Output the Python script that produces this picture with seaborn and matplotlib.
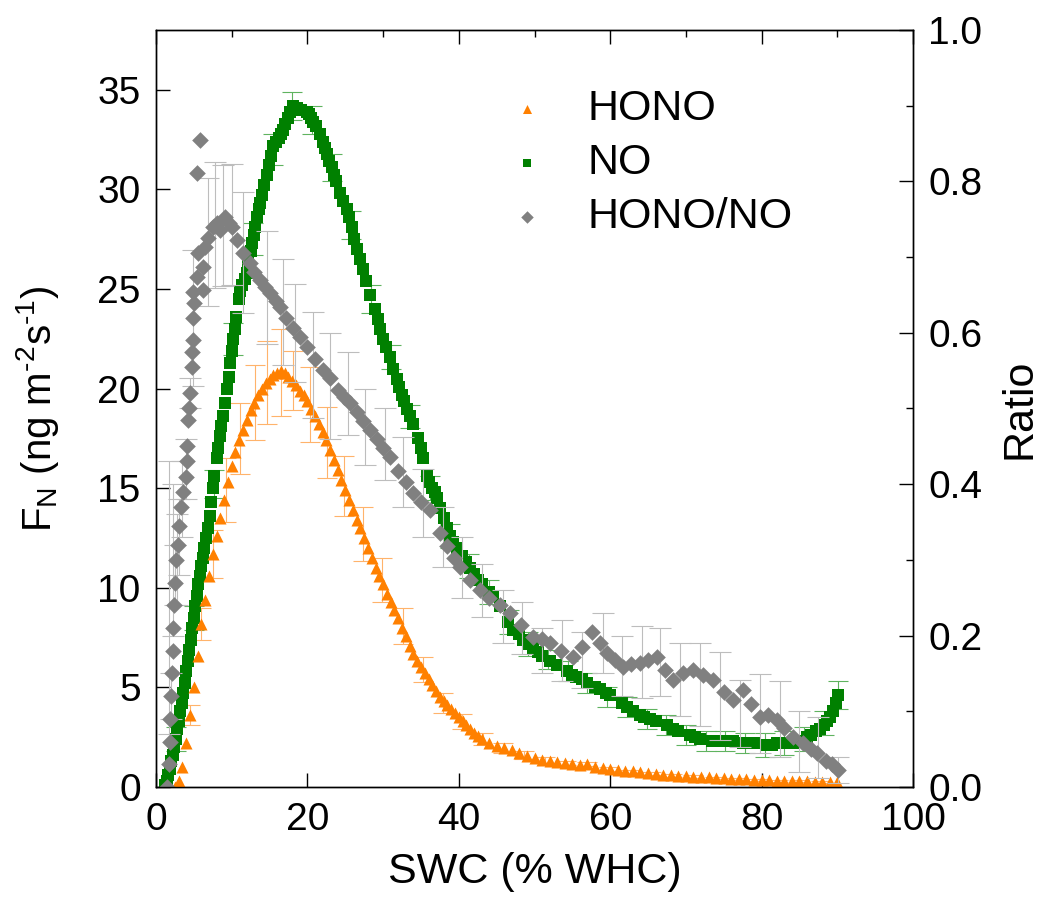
import matplotlib
matplotlib.use("Agg")
import matplotlib.pyplot as plt
from matplotlib.ticker import FixedLocator, FormatStrFormatter
import seaborn as sns

# ---------------- data ----------------
hono_x = [2.5, 3.0, 3.5, 4.0, 4.5, 5.0, 5.5, 6.0, 6.5, 7.0, 7.5, 8.0, 8.5, 9.0, 9.5,
          10.0, 10.5, 11.0, 11.5, 12.0, 12.5, 13.0, 13.5, 14.0, 14.5, 15.0, 15.5,
          16.0, 16.5, 17.0, 17.5, 18.0, 18.5, 19.0, 19.5, 20.0, 20.5, 21.0, 21.5,
          22.0, 22.5, 23.0, 23.5, 24.0, 24.5, 25.0, 25.5, 26.0, 26.5, 27.0, 27.5,
          28.0, 28.5, 29.0, 29.5, 30.0, 30.5, 31.0, 31.5, 32.0, 32.5, 33.0, 33.5,
          34.0, 34.5, 35.0, 35.5, 36.0, 36.5, 37.0, 37.5, 38.0, 38.5, 39.0, 39.5,
          40.0, 40.5, 41.0, 41.5, 42.0, 42.5, 43.0, 44.0, 45.0, 46.0, 47.0, 48.0,
          49.0, 50.0, 51, 52, 53, 54, 55, 56, 57, 58, 59, 60, 61, 62, 63, 64, 65,
          66, 67, 68, 69, 70, 71, 72, 73, 74, 75, 76, 77, 78, 79, 80, 81, 82, 83,
          84, 85, 86, 87, 88, 89, 90]
hono_y = [0.0, 0.3, 1.0, 2.2, 3.6, 5.0, 6.6, 8.2, 9.4, 10.6, 11.7, 12.6, 13.5, 14.4, 15.3,
          16.1, 16.8, 17.4, 17.9, 18.4, 18.9, 19.3, 19.7, 20.0, 20.3, 20.5, 20.7,
          20.8, 20.9, 20.8, 20.6, 20.4, 20.2, 19.9, 19.7, 19.4, 19.0, 18.6, 18.2,
          17.8, 17.4, 16.9, 16.4, 15.9, 15.4, 14.9, 14.4, 13.9, 13.4, 13.0, 12.5,
          12.0, 11.5, 11.0, 10.6, 10.2, 9.7, 9.3, 8.9, 8.5, 8.0, 7.6, 7.1,
          6.7, 6.3, 6.0, 5.7, 5.4, 5.1, 4.8, 4.5, 4.3, 4.1, 3.9, 3.7,
          3.5, 3.3, 3.1, 2.9, 2.7, 2.55, 2.4, 2.2, 2.05, 1.95, 1.85, 1.7,
          1.55, 1.45, 1.38, 1.3, 1.25, 1.2, 1.15, 1.1, 1.15, 1.0, 0.95, 0.9, 0.85,
          0.8, 0.78, 0.75, 0.7, 0.65, 0.62, 0.6, 0.57, 0.55, 0.52, 0.5, 0.48, 0.45,
          0.43, 0.4, 0.39, 0.38, 0.36, 0.35, 0.34, 0.32, 0.31, 0.3, 0.29, 0.28,
          0.27, 0.26, 0.25, 0.25]

no_x = [1.2, 1.4, 1.6, 1.8, 2.0, 2.2, 2.4, 2.6, 2.8, 3.0, 3.2, 3.4, 3.6, 3.8, 4.0,
        4.2, 4.4, 4.6, 4.8, 5.0, 5.2, 5.4, 5.6, 5.8, 6.0, 6.2, 6.4, 6.6, 6.9, 7.1,
        7.3, 7.5, 7.7, 8.0, 8.2, 8.4, 8.6, 8.8, 9.1, 9.4, 9.6, 9.8, 10.0, 10.2,
        10.4, 10.6, 10.9, 11.1, 11.4, 11.7, 12.0, 12.2, 12.5, 12.7, 12.9, 13.1,
        13.4, 13.6, 13.8, 14.0, 14.3, 14.6, 14.9, 15.2, 15.5, 15.8, 16.2, 16.5,
        16.8, 17.1, 17.4, 17.7, 18.1, 18.6, 19.2, 19.9, 20.2, 20.5, 20.8, 21.2,
        21.6, 22.0, 22.3, 22.6, 22.9, 23.2, 23.5, 23.8, 24.3, 24.7, 25.2, 25.5,
        25.9, 26.2, 26.5, 26.9, 27.4, 27.8, 28.3, 28.9, 29.3, 29.6, 30.0, 30.4,
        30.9, 31.3, 31.8, 32.1, 32.5, 32.8, 33.2, 33.6, 34.0, 34.6, 35.0, 35.3,
        35.8, 36.1, 36.5, 36.8, 37.1, 37.5, 38.0, 38.4, 38.8, 39.2, 39.8, 40.4,
        41.0, 41.5, 42.0, 42.5, 43.0, 44.0, 44.5, 45.5, 46.5,
        47.2, 48.0, 48.5, 49.2, 49.8, 50.5, 51.0, 52.0, 53.0, 54.3, 55.0, 55.5,
        56.3, 57.0, 58.0, 58.7, 59.4, 60.0, 61.5, 62.2, 63.0, 64.0, 64.5, 65.3,
        66.0, 67.5, 68.3, 69.0, 70.5, 71.2, 71.9, 73.5, 74.3, 75.0, 76.2, 77.5,
        78.3, 79.0, 80.7, 81.4, 82.0, 83.5, 84.3, 85.0, 86.0, 86.5, 87.2, 87.7,
        88.2, 88.6, 89.0, 89.4, 89.8, 90.1]
no_y = [0.1, 0.3, 0.6, 0.9, 1.3, 1.6, 2.0, 2.4, 2.9, 3.3, 3.8, 4.2, 4.7, 5.2, 5.8,
        6.3, 6.9, 7.4, 8.0, 8.5, 9.1, 9.6, 10.2, 10.6, 11.1, 11.5, 12.0, 12.5, 13.0, 13.6,
        14.3, 15.0, 15.6, 16.5, 17.0, 17.6, 18.1, 18.6, 19.3, 20.0, 20.6, 21.3, 21.9, 22.5,
        23.0, 23.6, 24.5, 24.9, 25.2, 25.5, 25.8, 26.4, 26.9, 27.3, 27.7, 28.1,
        28.6, 29.0, 29.3, 29.7, 30.2, 30.7, 31.2, 31.7, 32.2, 32.4, 32.6, 32.8,
        33.0, 33.3, 33.6, 33.9, 34.2, 34.1, 34.0, 33.9, 33.8, 33.6, 33.4, 33.2,
        32.8, 32.4, 32.1, 31.8, 31.4, 31.1, 30.7, 30.4, 29.8, 29.4, 29.0, 28.6,
        28.1, 27.5, 27.0, 26.5, 26.0, 25.4, 24.7, 24.0, 23.5, 23.0, 22.5, 22.1,
        21.6, 21.0, 20.5, 20.1, 19.7, 19.4, 19.0, 18.6, 18.2, 17.5, 17.0, 16.5,
        15.6, 15.3, 15.0, 14.8, 14.5, 14.0, 13.5, 13.0, 12.6, 12.3, 12.0, 11.6,
        11.3, 11.0, 10.7, 10.4, 10.2, 9.8, 9.6, 9.1, 8.3,
        7.9, 7.7, 7.4, 7.2, 7.0, 6.8, 6.6, 6.3, 6.1, 5.8, 5.6, 5.5,
        5.4, 5.2, 5.0, 4.9, 4.7, 4.6, 4.2, 4.0, 3.8, 3.6, 3.5, 3.4,
        3.3, 3.1, 2.9, 2.8, 2.6, 2.5, 2.4, 2.3, 2.3, 2.3, 2.3, 2.2,
        2.2, 2.2, 2.1, 2.1, 2.2, 2.2, 2.2, 2.3, 2.5, 2.6, 2.8, 2.9,
        3.1, 3.3, 3.5, 3.8, 4.2, 4.6]

ratio_x = [1.5, 1.7, 1.8, 1.9, 2.0, 2.1, 2.2, 2.3, 2.4, 2.5, 2.7, 2.9, 3.1, 3.3, 3.6,
           3.9, 4.1, 4.1, 4.2, 4.4, 4.5, 4.7, 4.8, 4.9, 4.9, 5.0, 4.9, 5.4, 5.5, 6.2,
           6.2, 5.4, 5.8, 6.5, 6.9, 7.5, 8.0, 8.5, 9.1, 9.6, 10.0, 10.7, 11.5, 12.4,
           13.0, 13.7, 14.4, 15.1, 15.8, 16.4, 17.2, 18.1, 19.0, 19.9, 21.0, 22.1,
           23.0, 24.0, 24.8, 25.6, 26.5, 27.4, 28.3, 29.2, 30.0, 30.9, 32.0, 33.0,
           34.0, 35.0, 36.2, 37.5, 38.5, 39.3, 40.2, 41.5, 42.8, 44.0, 45.5, 46.8,
           48.2, 49.8, 51.0, 52.0, 53.5, 55.1, 56.3, 57.6, 58.6, 59.6, 60.7, 61.7,
           62.8, 63.9, 65.0, 66.2, 67.3, 68.3, 69.6, 71.0, 72.3, 73.6, 75.0, 76.2,
           77.5, 78.6, 79.8, 80.9, 82.0, 83.0, 84.1, 85.5, 86.5, 87.3, 88.5, 89.3, 90.1]
ratio_y = [0.0, 0.03, 0.06, 0.09, 0.12, 0.15, 0.18, 0.21, 0.24, 0.27, 0.30, 0.32, 0.345,
           0.37, 0.39, 0.41, 0.43, 0.45, 0.485, 0.50, 0.52, 0.555, 0.575, 0.59, 0.62,
           0.64, 0.654, 0.674, 0.705, 0.657, 0.687, 0.811, 0.855, 0.713, 0.725, 0.74,
           0.745, 0.736, 0.753, 0.745, 0.74, 0.723, 0.705, 0.692, 0.68, 0.67, 0.66,
           0.652, 0.642, 0.634, 0.62, 0.606, 0.594, 0.581, 0.565, 0.551, 0.54, 0.525,
           0.515, 0.507, 0.495, 0.484, 0.472, 0.46, 0.448, 0.436, 0.418, 0.403, 0.388,
           0.376, 0.366, 0.335, 0.318, 0.303, 0.291, 0.274, 0.26, 0.25, 0.24, 0.23,
           0.214, 0.198, 0.195, 0.19, 0.18, 0.172, 0.185, 0.205, 0.19, 0.177, 0.168,
           0.159, 0.163, 0.164, 0.168, 0.172, 0.155, 0.141, 0.15, 0.155, 0.148, 0.141,
           0.125, 0.115, 0.128, 0.11, 0.093, 0.095, 0.089, 0.078, 0.066, 0.058, 0.05,
           0.045, 0.035, 0.03, 0.022]

# error bars (shown on a subset of points): position, centre, half-width
hono_err_x = [4.5, 6.0, 7.5, 9.3, 11.1, 13.1, 14.6, 16.5, 18.1, 20.3, 22.6, 24.8, 27.3,
              29.8, 32.6, 35.3, 37.9, 40.4, 43.2, 45.8, 48.6, 51.4, 54.2, 57.0, 59.8,
              62.6, 65.4, 68.2, 71.0, 73.8, 76.6, 79.4, 82.2, 85.0, 87.8]
hono_err_c = [3.6, 8.2, 11.7, 14.9, 17.5, 19.3, 20.3, 20.8, 20.4, 19.2, 17.3, 15.1, 12.7,
              10.4, 8.1, 5.9, 4.2, 3.3, 2.4, 1.95, 1.6, 1.35, 1.2, 1.15, 0.92,
              0.79, 0.67, 0.59, 0.52, 0.45, 0.4, 0.36, 0.32, 0.29, 0.26]
hono_err_h = [0.5, 0.8, 1.2, 1.6, 1.8, 1.9, 2.1, 2.2, 1.5, 1.9, 1.8, 1.5, 1.35,
              1.1, 0.9, 0.65, 0.5, 0.37, 0.3, 0.25, 0.2, 0.15, 0.12, 0.1, 0.1,
              0.08, 0.08, 0.07, 0.06, 0.05, 0.05, 0.05, 0.05, 0.04, 0.04]

no_err_x = [2.6, 5.0, 7.6, 10.2, 12.8, 15.4, 18.0, 20.6, 23.2, 25.8, 28.4, 31.0, 33.6,
            36.2, 38.8, 41.4, 44.0, 46.6, 49.2, 51.8, 54.4, 57.0, 59.6, 62.2, 64.8,
            67.4, 70.0, 72.6, 75.2, 77.8, 80.4, 83.0, 85.6, 88.2, 90.1]
no_err_c = [2.4, 8.5, 15.2, 22.5, 27.5, 32.0, 34.2, 33.5, 31.1, 28.2, 24.5, 21.6, 18.6,
            15.0, 12.6, 11.1, 9.8, 8.3, 7.2, 6.4, 5.8, 5.2, 4.5, 4.0, 3.4,
            3.1, 2.6, 2.3, 2.3, 2.2, 2.1, 2.2, 2.4, 3.2, 4.6]
no_err_h = [0.6, 0.6, 0.7, 0.8, 0.8, 0.8, 0.7, 0.7, 0.7, 0.7, 0.7, 0.6, 0.6,
            0.6, 0.6, 0.6, 0.6, 0.6, 0.6, 0.5, 0.5, 0.5, 0.5, 0.5, 0.5,
            0.5, 0.5, 0.5, 0.5, 0.5, 0.6, 0.6, 0.6, 0.6, 0.7]

ratio_err_x = [1.7, 2.0, 2.2, 2.5, 2.8, 3.0, 3.5, 4.0, 4.5, 4.9, 6.9, 7.8, 8.9, 10.1,
               11.5, 14.6, 16.8, 18.3, 20.7, 23.0, 25.4, 27.6, 30.2, 32.6, 35.3, 37.9,
               40.4, 43.1, 45.8, 48.3, 51.0, 53.6, 56.3, 59.0, 61.6, 64.2, 66.6, 69.2,
               71.9, 74.5, 77.1, 79.8, 82.4, 85.0, 87.4, 90.1]
ratio_err_c = [0.25, 0.12, 0.30, 0.28, 0.30, 0.33, 0.38, 0.42, 0.52, 0.62, 0.72, 0.742,
               0.742, 0.743, 0.706, 0.66, 0.627, 0.60, 0.557, 0.53, 0.52, 0.476, 0.453,
               0.416, 0.375, 0.33, 0.29, 0.26, 0.225, 0.21, 0.18, 0.18, 0.168, 0.19,
               0.16, 0.165, 0.165, 0.142, 0.135, 0.12, 0.097, 0.097, 0.09, 0.06, 0.052,
               0.022]
ratio_err_h = [0.18, 0.03, 0.10, 0.04, 0.06, 0.05, 0.05, 0.04, 0.02, 0.09, 0.085, 0.083,
               0.08, 0.08, 0.08, 0.075, 0.07, 0.065, 0.07, 0.07, 0.055, 0.05, 0.048,
               0.046, 0.045, 0.04, 0.04, 0.035, 0.035, 0.034, 0.03, 0.04, 0.037, 0.04,
               0.04, 0.048, 0.045, 0.048, 0.055, 0.058, 0.044, 0.052, 0.05, 0.04, 0.04,
               0.017]

x_major = [0, 20, 40, 60, 80, 100]
x_minor_top = [10, 30, 50, 70, 90]
left_ticks = [0, 5, 10, 15, 20, 25, 30, 35]
right_major = [0.0, 0.2, 0.4, 0.6, 0.8, 1.0]
right_minor = [0.1, 0.3, 0.5, 0.7, 0.9]

c_hono, c_no, c_ratio = "#FF8000", "#008000", "#808080"

# ---------------- figure ----------------
sns.set_style("ticks")
plt.rcParams["font.family"] = ["Liberation Sans", "DejaVu Sans"]
plt.rcParams["mathtext.fontset"] = "custom"
plt.rcParams["mathtext.rm"] = "Liberation Sans"
plt.rcParams["mathtext.it"] = "Liberation Sans:italic"
plt.rcParams["mathtext.bf"] = "Liberation Sans:bold"
plt.rcParams["mathtext.sf"] = "Liberation Sans"
plt.rcParams["text.color"] = "black"
plt.rcParams["axes.labelcolor"] = "black"
plt.rcParams["xtick.color"] = "black"
plt.rcParams["ytick.color"] = "black"
plt.rcParams["axes.edgecolor"] = "black"

fig = plt.figure(figsize=(10.53, 9.05), dpi=100)
ax = fig.add_axes([156 / 1053, 1 - 787 / 905, 757 / 1053, 757 / 905])
ax2 = ax.twinx()

# error bars
ax.errorbar(no_err_x, no_err_c, yerr=no_err_h, fmt="none", ecolor="#5fb35f",
            elinewidth=0.8, capsize=7, capthick=0.8, zorder=1)
ax.errorbar(hono_err_x, hono_err_c, yerr=hono_err_h, fmt="none", ecolor="#ffb36b",
            elinewidth=0.8, capsize=7, capthick=0.8, zorder=1)

sns.scatterplot(x=no_x, y=no_y, ax=ax, marker="s", s=68, color=c_no,
                linewidth=0, label="NO", zorder=2)
sns.scatterplot(x=hono_x, y=hono_y, ax=ax, marker="^", s=75, color=c_hono,
                linewidth=0, label="HONO", zorder=3)

ax2.errorbar(ratio_err_x, ratio_err_c, yerr=ratio_err_h, fmt="none", ecolor="#bdbdbd",
             elinewidth=0.8, capsize=8, capthick=0.8, zorder=1)
sns.scatterplot(x=ratio_x, y=ratio_y, ax=ax2, marker="D", s=72, color=c_ratio,
                linewidth=0, label="HONO/NO", zorder=2)

for a in (ax, ax2):
    lg = a.get_legend()
    if lg is not None:
        lg.remove()

# axes limits and ticks
ax.set_xlim(0, 100)
ax.set_ylim(0, 38)
ax2.set_ylim(0, 1.0)

ax.xaxis.set_major_locator(FixedLocator(x_major))
ax.xaxis.set_minor_locator(FixedLocator(x_minor_top))
ax.yaxis.set_major_locator(FixedLocator(left_ticks))
ax2.yaxis.set_major_locator(FixedLocator(right_major))
ax2.yaxis.set_minor_locator(FixedLocator(right_minor))
ax2.yaxis.set_major_formatter(FormatStrFormatter("%.1f"))

ax.tick_params(axis="x", which="major", direction="in", length=10, width=1.0,
               top=True, bottom=True, labelsize=28, pad=11, colors="black")
ax.tick_params(axis="x", which="minor", direction="in", length=5, width=1.0,
               top=True, bottom=False)
ax.tick_params(axis="y", which="major", direction="in", length=10, width=1.0,
               left=True, right=False, labelsize=28, pad=11, colors="black")
ax.tick_params(axis="y", which="minor", left=False, right=False)
ax2.tick_params(axis="y", which="major", direction="in", length=10, width=1.0,
                right=True, labelsize=28, pad=11, colors="black")
ax2.tick_params(axis="y", which="minor", direction="in", length=5, width=1.0, right=True)

for a in (ax, ax2):
    for sp in a.spines.values():
        sp.set_visible(True)
        sp.set_color("black")
        sp.set_linewidth(1.0)

ax.set_xlabel("SWC (% WHC)", fontsize=31, labelpad=10, color="black")
ax.set_ylabel(r"F$_\mathregular{N}$ (ng m$^{\text{-2}}$s$^{\text{-1}}$)",
              fontsize=29, labelpad=26, color="black")
ax2.set_ylabel("Ratio", fontsize=31, labelpad=12, color="black")

# legend
h1, l1 = ax.get_legend_handles_labels()
h2, l2 = ax2.get_legend_handles_labels()
hd = dict(zip(l1 + l2, h1 + h2))
order = ["HONO", "NO", "HONO/NO"]
leg = ax2.legend([hd[k] for k in order], order, loc="upper left",
                 bbox_to_anchor=(0.462, 0.922), frameon=False, fontsize=31,
                 handlelength=1.0, handletextpad=0.9, labelspacing=0.33,
                 borderpad=0, borderaxespad=0, scatterpoints=1, markerscale=0.75)
for t in leg.get_texts():
    t.set_color("black")

fig.savefig("out.png", dpi=100)
